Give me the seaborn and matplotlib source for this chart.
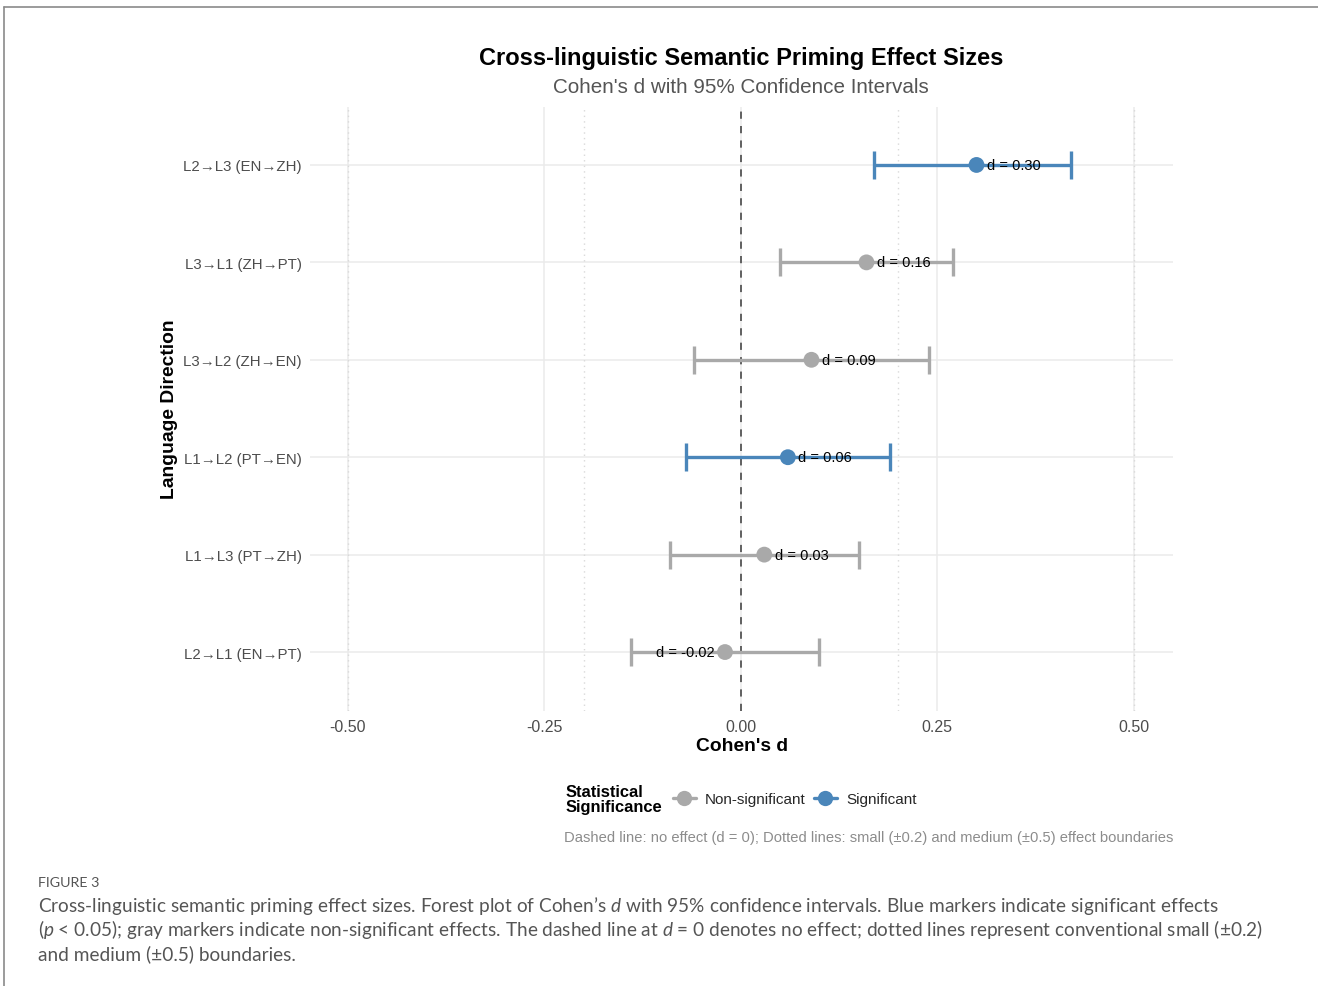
import numpy as np
import pandas as pd
import matplotlib
matplotlib.use("Agg")
import matplotlib.pyplot as plt
from matplotlib.lines import Line2D
import seaborn as sns

# data (top row first)
directions = ["L2→L3 (EN→ZH)", "L3→L1 (ZH→PT)", "L3→L2 (ZH→EN)",
              "L1→L2 (PT→EN)", "L1→L3 (PT→ZH)", "L2→L1 (EN→PT)"]
cohens_d = [0.30, 0.16, 0.09, 0.06, 0.03, -0.02]
ci_low = [0.17, 0.05, -0.06, -0.07, -0.09, -0.14]
ci_high = [0.42, 0.27, 0.24, 0.19, 0.15, 0.10]
significance = ["Significant", "Non-significant", "Non-significant",
                "Significant", "Non-significant", "Non-significant"]
x_ticks = [-0.50, -0.25, 0.00, 0.25, 0.50]
boundaries = [-0.5, -0.2, 0.2, 0.5]

palette = {"Non-significant": "#A9A9A9", "Significant": "#4A86BA"}

df = pd.DataFrame({"direction": directions, "d": cohens_d,
                   "lo": ci_low, "hi": ci_high, "sig": significance})
df["ypos"] = np.arange(len(df))

sns.set_theme(style="white")
plt.rcParams['font.family'] = ['Liberation Sans', 'DejaVu Sans']

W, H = 1318, 987
fig = plt.figure(figsize=(W / 100, H / 100), dpi=100)

def fx(px):
    return px / W

def fy(py):
    return 1 - py / H

# panel placed in pixels
left, right, top, bottom = 310, 1173, 107.5, 711.5
ax = fig.add_axes([fx(left), fy(bottom), (right - left) / W, (bottom - top) / H])

for s in ax.spines.values():
    s.set_visible(False)

# grid
for xt in x_ticks:
    ax.axvline(xt, color="#EBEBEB", lw=1.1, zorder=0)
for yp in df["ypos"]:
    ax.axhline(yp, color="#EBEBEB", lw=1.1, zorder=0)
for b in boundaries:
    ax.axvline(b, color="#D9D9D9", lw=1.0, ls=(0, (1, 3)), zorder=1)
ax.axvline(0, color="#555555", lw=1.3, ls=(0, (4, 4)), zorder=1)

# confidence intervals
for _, r in df.iterrows():
    ax.errorbar(r["d"], r["ypos"], xerr=[[r["d"] - r["lo"]], [r["hi"] - r["d"]]],
                fmt="none", ecolor=palette[r["sig"]], elinewidth=2.4,
                capsize=10, capthick=2.4, zorder=2)

sns.scatterplot(data=df, x="d", y="ypos", hue="sig", palette=palette,
                s=130, edgecolor="none", legend=False, zorder=3, ax=ax)

for _, r in df.iterrows():
    pos = r["d"] >= 0
    ax.annotate(f"d = {r['d']:.2f}", (r["d"], r["ypos"]),
                xytext=(7.5 if pos else -7.5, 0), textcoords="offset points",
                ha="left" if pos else "right", va="center",
                fontsize=10.5, color="black", zorder=4)

ax.set_xlim(-0.548, 0.55)
ax.set_ylim(len(df) - 0.4, -0.6)
ax.set_xticks(x_ticks)
ax.set_xticklabels([f"{t:.2f}" for t in x_ticks])
ax.set_yticks(df["ypos"])
ax.set_yticklabels(df["direction"])
ax.tick_params(axis="both", length=0, labelcolor="#4D4D4D")
ax.tick_params(axis="x", labelsize=11.5, pad=6)
ax.tick_params(axis="y", labelsize=10.8, pad=6)
ax.set_xlabel("Cohen's d", fontsize=13.9, fontweight="bold", labelpad=2,
              color="black")
ax.set_ylabel("")
fig.text(fx(169), fy(409), "Language Direction", rotation=90, fontsize=13.9,
         fontweight="bold", ha="center", va="center", color="black")

# titles
fig.text(fx(741), fy(58), "Cross-linguistic Semantic Priming Effect Sizes",
         fontsize=17, fontweight="bold", ha="center", va="center", color="black")
fig.text(fx(741), fy(88), "Cohen's d with 95% Confidence Intervals",
         fontsize=14.9, color="#555555", ha="center", va="center")

# legend at the bottom
fig.text(fx(566), fy(800), "Statistical\nSignificance", fontsize=11.9,
         fontweight="bold", ha="left", va="center", linespacing=1.05,
         color="black")
handles = [Line2D([0], [0], color=palette[k], lw=2.4, marker="o", markersize=11,
                  markeredgewidth=0) for k in ["Non-significant", "Significant"]]
fig.legend(handles, ["Non-significant", "Significant"], loc="center left",
           bbox_to_anchor=(fx(659), fy(800)), ncol=2, frameon=False,
           fontsize=11, handlelength=1.5, handletextpad=0.6, columnspacing=0.55)

fig.text(fx(1173), fy(838),
         "Dashed line: no effect (d = 0); Dotted lines: small (±0.2) and medium (±0.5) effect boundaries",
         fontsize=10.6, color="#8C8C8C", ha="right", va="center")

# figure frame and caption
fig.add_artist(Line2D([fx(4), 1], [fy(8), fy(8)], color="#8A8A8A", lw=1.2))
fig.add_artist(Line2D([fx(4), fx(4)], [fy(8), 0], color="#8A8A8A", lw=1.2))

plt.rcParams['mathtext.fontset'] = 'custom'
plt.rcParams['mathtext.rm'] = 'Lato'
plt.rcParams['mathtext.it'] = 'Lato:italic'
cap_kw = dict(family=["Lato", "DejaVu Sans"], color="#555555", ha="left", va="center")
fig.text(fx(38), fy(883), "FIGURE 3", fontsize=10.3, **cap_kw)
fig.text(fx(38), fy(906),
         "Cross-linguistic semantic priming effect sizes. Forest plot of Cohen’s $\\it{d}$ with 95% confidence intervals. Blue markers indicate significant effects",
         fontsize=13.65, **cap_kw)
fig.text(fx(38), fy(930),
         "($\\it{p}$ < 0.05); gray markers indicate non-significant effects. The dashed line at $\\it{d}$ = 0 denotes no effect; dotted lines represent conventional small (±0.2)",
         fontsize=13.65, **cap_kw)
fig.text(fx(38), fy(954), "and medium (±0.5) boundaries.", fontsize=13.65, **cap_kw)

fig.savefig("out.png", dpi=100)
